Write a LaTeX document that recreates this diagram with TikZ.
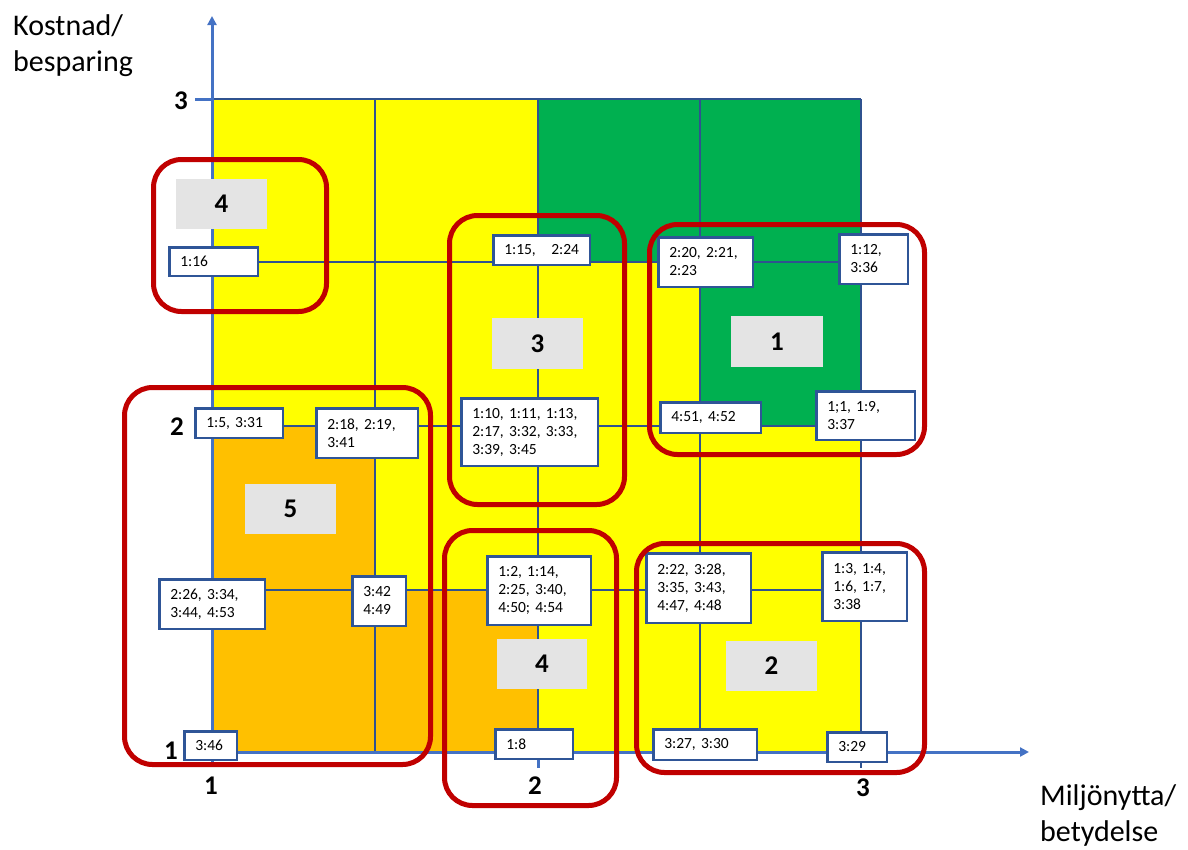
\documentclass[tikz,border=0pt]{standalone}
\usepackage{fontspec}
\setmainfont{Carlito}
\usetikzlibrary{arrows.meta}
\frenchspacing
\definecolor{gridc}{RGB}{47,82,143}
\definecolor{axisc}{RGB}{68,114,196}
\definecolor{boxc}{RGB}{47,85,151}
\definecolor{redc}{RGB}{192,0,0}
\definecolor{yel}{RGB}{255,255,0}
\definecolor{grn}{RGB}{0,176,80}
\definecolor{org}{RGB}{255,192,0}
\definecolor{gry}{RGB}{228,228,228}
\tikzset{
  idbox/.style={draw=boxc, line width=2.5pt, fill=white, align=left, inner xsep=11pt, inner ysep=0pt,
    font=\fontsize{15.5}{18}\selectfont\frenchspacing, anchor=center},
  grbox/.style={fill=gry, inner sep=0pt, font=\fontsize{27}{30}\selectfont\bfseries, anchor=center},
  ticknum/.style={inner sep=0pt, font=\fontsize{27}{30}\selectfont\bfseries, anchor=center},
  gridline/.style={draw=gridc, line width=2pt},
  axisline/.style={draw=axisc, line width=3pt},
  redframe/.style={draw=redc, line width=5pt, rounded corners=28pt},
  axlabel/.style={inner sep=0pt, align=left, anchor=base west, font=\fontsize{30}{36}\selectfont}
}
\newcommand\idbox[6]{%
  \pgfmathsetmacro\cx{(#2+#4)/2}\pgfmathsetmacro\cy{(#3+#5)/2}%
  \pgfmathsetmacro\bw{#4-#2-2.5}\pgfmathsetmacro\bh{#5-#3-2.5}%
  \pgfmathsetmacro\tw{\bw-22}%
  \node[idbox, minimum width=\bw pt, minimum height=\bh pt, text width=\tw pt] (#1) at (\cx,\cy) {#6};}
\newcommand\grbox[6]{%
  \pgfmathsetmacro\cx{(#2+#4)/2}\pgfmathsetmacro\cy{(#3+#5)/2}%
  \pgfmathsetmacro\bw{#4-#2}\pgfmathsetmacro\bh{#5-#3}%
  \node[grbox, minimum width=\bw pt, minimum height=\bh pt] (#1) at (\cx,\cy) {#6};}
\begin{document}
\begin{tikzpicture}[x=1pt,y=-1pt]
\useasboundingbox (0,0) rectangle (1188,849);
% fills
\fill[yel] (212,99) rectangle (861,752);
\fill[grn] (538,99) rectangle (861,262);
\fill[grn] (700,262) rectangle (861,426);
\fill[org] (212,426) rectangle (375,752);
\fill[org] (375,590) rectangle (538,752);
% grid
\foreach \gy in {99,262,426,590} \draw[gridline] (212,\gy) -- (861,\gy);
\foreach \gx in {375,538,700} \draw[gridline] (\gx,99) -- (\gx,752);
\draw[gridline] (861,99) -- (861,768);
% ticks
\draw[axisline] (195,99) -- (212,99);
\draw[axisline] (195,426) -- (212,426);
\draw[axisline] (538,752) -- (538,768);
\draw[axisline] (212,752) -- (212,766);
% axes
\coordinate (origin) at (212,752);
\coordinate (ytip) at (212,16);
\coordinate (xtip) at (1029,752);
\draw[axisline, -{Triangle[length=9pt,width=9pt]}] (origin) -- (ytip);
\draw[axisline, -{Triangle[length=9pt,width=9pt]}] (origin) -- (xtip);
% axis numbers
\node[ticknum] (y3) at (181,101) {3};
\node[ticknum] (y2) at (177,427) {2};
\node[ticknum] (y1) at (171,751) {1};
\node[ticknum] (x1) at (211,786) {1};
\node[ticknum] (x2) at (535,786) {2};
\node[ticknum] (x3) at (863,788) {3};
% gray labels
\grbox{g4a}{176}{179}{267}{229}{4}
\grbox{g3}{492}{318}{583}{369}{3}
\grbox{g1}{731}{316}{823}{367}{1}
\grbox{g5}{245}{484}{336}{534}{5}
\grbox{g4b}{497}{639}{587}{689}{4}
\grbox{g2}{726}{641}{817}{691}{2}
% id boxes
\idbox{b1}{168}{246}{259}{277}{1:16}
\idbox{b2}{492}{234}{591}{266}{\mbox{1:15,\ \ \ 2:24}}
\idbox{b3}{657}{236}{754}{288}{2:20, 2:21,\\2:23}
\idbox{b4}{838}{233}{909}{285}{1:12,\\3:36}
\idbox{b5}{194}{407}{284}{439}{1:5, 3:31}
\idbox{b6}{315}{407}{419}{459}{2:18, 2:19,\\3:41}
\idbox{b7}{460}{397}{599}{467}{1:10, 1:11, 1:13,\\2:17, 3:32, 3:33,\\3:39, 3:45}
\idbox{b8}{659}{401}{762}{434}{4:51, 4:52}
\idbox{b9}{815}{390}{916}{441}{1;1, 1:9,\\3:37}
\idbox{b10}{158}{578}{266}{630}{2:26, 3:34,\\3:44, 4:53}
\idbox{b11}{351}{575}{407}{627}{3:42\\4:49}
\idbox{b12}{486}{555}{592}{626}{1:2, 1:14,\\2:25, 3:40,\\4:50; 4:54}
\idbox{b13}{645}{552}{752}{624}{2:22, 3:28,\\3:35, 3:43,\\4:47, 4:48}
\idbox{b14}{821}{551}{908}{622}{1:3, 1:4,\\1:6, 1:7,\\3:38}
\idbox{b15}{183}{730}{238}{761}{3:46}
\idbox{b16}{494}{728}{574}{760}{1:8}
\idbox{b17}{652}{728}{758}{761}{3:27, 3:30}
\idbox{b18}{826}{731}{888}{763}{3:29}
% red group frames
\draw[redframe] (153.5,159.5) rectangle (326.5,311.5);
\draw[redframe] (449.5,215.5) rectangle (624.5,504.5);
\draw[redframe] (649.5,224.5) rectangle (924.5,454.5);
\draw[redframe] (124.5,387.5) rectangle (430.5,764.5);
\draw[redframe] (444.5,530.5) rectangle (616.5,805.5);
\draw[redframe] (636.5,543.5) rectangle (924.5,772.5);
% axis titles (anchor = baseline of last line)
\node[axlabel] (ylab) at (13,71) {Kostnad/\\besparing};
\node[axlabel] (xlab) at (1040,841) {Miljönytta/\\betydelse};
\end{tikzpicture}
\end{document}
